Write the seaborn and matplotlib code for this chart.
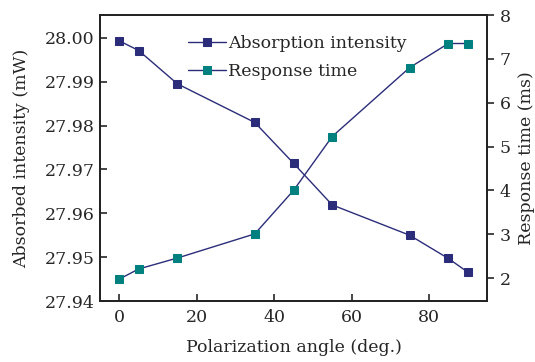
import matplotlib
matplotlib.use("Agg")
import matplotlib.pyplot as plt
import seaborn as sns
import pandas as pd

angle = [0, 5, 15, 35, 45, 55, 75, 85, 90]
absorption = [27.9993, 27.9971, 27.9895, 27.9807, 27.9714, 27.9619, 27.9550, 27.9497, 27.9466]
response = [1.98, 2.21, 2.46, 3.01, 4.00, 5.23, 6.80, 7.35, 7.35]

sns.set_style("ticks")
plt.rcParams['font.family'] = ['DejaVu Serif']
plt.rcParams['mathtext.fontset'] = 'dejavuserif'

line_col = '#2b2d7a'
teal = '#00807f'

df = pd.DataFrame({"angle": angle, "absorption": absorption, "response": response})

fig = plt.figure(figsize=(5.35, 3.62), dpi=100)
ax = fig.add_axes([100/535, 1-301/362, 387/535, 286/362])
ax2 = ax.twinx()

sns.lineplot(data=df, x="angle", y="absorption", ax=ax, color=line_col, lw=1.0,
             marker='s', markersize=5.8, markerfacecolor=line_col, markeredgecolor=line_col,
             label='Absorption intensity', legend=False)
sns.lineplot(data=df, x="angle", y="response", ax=ax2, color=line_col, lw=1.0,
             marker='s', markersize=5.8, markerfacecolor=teal, markeredgecolor=teal,
             label='Response time', legend=False)

ax.set_xlim(-5, 95)
ax.set_ylim(27.94, 28.0052)
ax2.set_ylim(1.48, 8.0)
ax.set_xticks([0, 20, 40, 60, 80])
ax.set_yticks([27.94, 27.95, 27.96, 27.97, 27.98, 27.99, 28.00])
ax.set_yticklabels([f"{v:.2f}" for v in [27.94, 27.95, 27.96, 27.97, 27.98, 27.99, 28.00]])
ax2.set_yticks([2, 3, 4, 5, 6, 7, 8])

ax.set_xlabel('Polarization angle (deg.)', fontsize=12.5, labelpad=9)
ax.set_ylabel('Absorbed intensity (mW)', fontsize=12.5, labelpad=10)
ax2.set_ylabel('Response time (ms)', fontsize=12.5, labelpad=5)

ax.tick_params(axis='x', direction='in', length=5, width=1.2, labelsize=12.5, pad=6)
ax.tick_params(axis='y', direction='in', length=5, width=1.2, labelsize=12.5, pad=4)
ax2.tick_params(axis='y', direction='out', length=5, width=1.2, labelsize=12.5, pad=4)
ax.tick_params(top=False)

for a in (ax, ax2):
    for s in a.spines.values():
        s.set_linewidth(1.3)
        s.set_color('#222222')
        s.set_visible(True)

h1, l1 = ax.get_legend_handles_labels()
h2, l2 = ax2.get_legend_handles_labels()
leg = ax.legend(h1 + h2, l1 + l2, loc='upper left', bbox_to_anchor=(0.2, 0.965),
                frameon=False, fontsize=12.5, handlelength=2.2, handletextpad=0.1,
                labelspacing=0.6, borderaxespad=0.2)

fig.savefig('out.png', dpi=100)
